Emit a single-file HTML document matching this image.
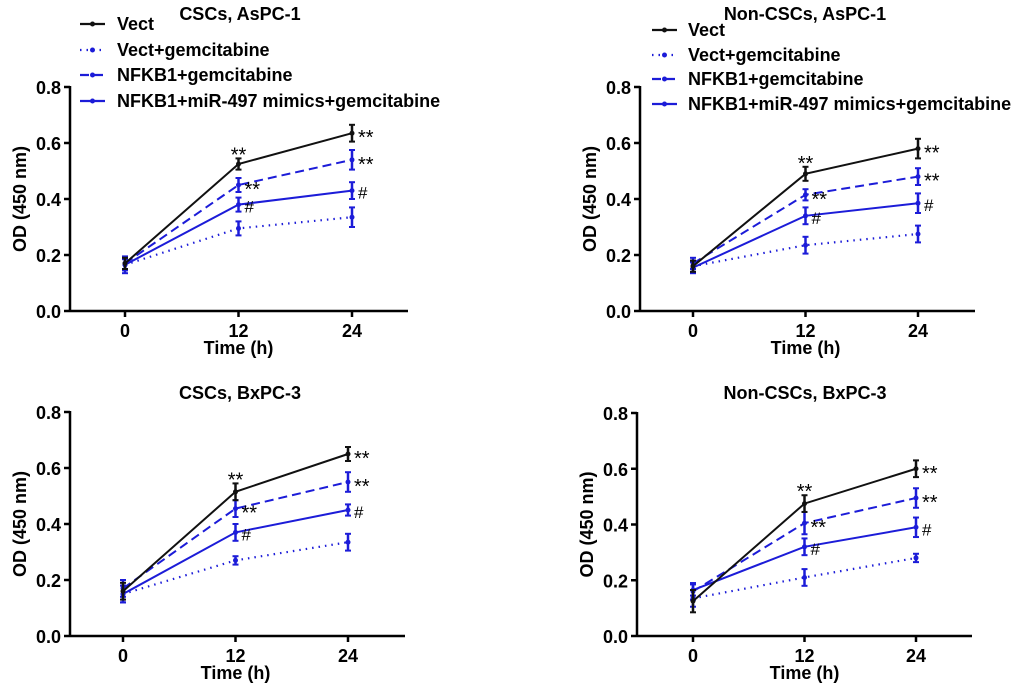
<!DOCTYPE html>
<html><head><meta charset="utf-8"><style>
html,body{margin:0;padding:0;background:#fff;}
svg{display:block;font-family:"Liberation Sans",Arial,sans-serif;font-weight:bold;}
</style></head><body>
<svg id="chart" width="1020" height="690" viewBox="0 0 1020 690" xmlns="http://www.w3.org/2000/svg"></svg>
<script>
const timepoints = [0, 12, 24];
const yTicks = [0.0, 0.2, 0.4, 0.6, 0.8];
const seriesNames = ["Vect", "Vect+gemcitabine", "NFKB1+gemcitabine", "NFKB1+miR-497 mimics+gemcitabine"];
const panelTitles = ["CSCs, AsPC-1", "Non-CSCs, AsPC-1", "CSCs, BxPC-3", "Non-CSCs, BxPC-3"];
const p1Values = [[0.17,0.525,0.635],[0.165,0.295,0.335],[0.17,0.45,0.54],[0.165,0.38,0.43]];
const p2Values = [[0.16,0.49,0.58],[0.16,0.235,0.275],[0.17,0.415,0.48],[0.155,0.34,0.385]];
const p3Values = [[0.16,0.515,0.65],[0.15,0.27,0.335],[0.17,0.455,0.55],[0.15,0.37,0.45]];
const p4Values = [[0.125,0.475,0.6],[0.135,0.21,0.28],[0.16,0.405,0.495],[0.165,0.32,0.39]];
const p1Err = [[0.02,0.02,0.03],[0.03,0.025,0.035],[0.02,0.025,0.035],[0.02,0.025,0.03]];
const p2Err = [[0.02,0.025,0.035],[0.02,0.03,0.03],[0.02,0.02,0.03],[0.02,0.03,0.035]];
const p3Err = [[0.03,0.03,0.025],[0.03,0.015,0.03],[0.03,0.03,0.035],[0.03,0.03,0.02]];
const p4Err = [[0.04,0.03,0.03],[0.03,0.03,0.015],[0.03,0.04,0.035],[0.02,0.03,0.035]];
const p1Marks = [["**","**"],["",""],["**","**"],["#","#"]];
const p2Marks = [["**","**"],["",""],["**","**"],["#","#"]];
const p3Marks = [["**","**"],["",""],["**","**"],["#","#"]];
const p4Marks = [["**","**"],["",""],["**","**"],["#","#"]];

const NS="http://www.w3.org/2000/svg";
const svg=document.getElementById('chart');
const BLUE="#1c1cd8";
const colors=["#111",BLUE,BLUE,BLUE];
const dashes=["","1.5 5","9 5",""];
function mk(tag,attrs,parent){const e=document.createElementNS(NS,tag);for(const k in attrs)e.setAttribute(k,attrs[k]);(parent||svg).appendChild(e);return e;}

const panels=[
 {ax:70,top:87,bot:311,x0:125,x24:352,xend:408,title:[240,20],vals:p1Values,err:p1Err,marks:p1Marks},
 {ax:640,top:87,bot:311,x0:693,x24:918,xend:975,title:[805,20],vals:p2Values,err:p2Err,marks:p2Marks},
 {ax:70,top:412,bot:636,x0:123,x24:348,xend:405,title:[240,399],vals:p3Values,err:p3Err,marks:p3Marks},
 {ax:637,top:413,bot:636,x0:693,x24:916,xend:972,title:[805,399],vals:p4Values,err:p4Err,marks:p4Marks}
];
panels.forEach((p,pi)=>{
 const g=mk('g',{});
 
 
 const ys=v=>p.bot-(v/0.8)*(p.bot-p.top);
 const xs=t=>p.x0+(t/24)*(p.x24-p.x0);
 const t=mk('text',{x:p.title[0],y:p.title[1],'text-anchor':'middle','font-size':18},g);t.textContent=panelTitles[pi];
 
 
 mk('line',{x1:p.ax,y1:p.top-1,x2:p.ax,y2:p.bot,stroke:'#000','stroke-width':2.5},g);
 mk('line',{x1:p.ax,y1:p.bot,x2:p.xend,y2:p.bot,stroke:'#000','stroke-width':2.5},g);
 yTicks.forEach(v=>{mk('line',{x1:p.ax-6,y1:ys(v),x2:p.ax,y2:ys(v),stroke:'#000','stroke-width':2.5},g);
  const l=mk('text',{x:p.ax-9,y:ys(v)+7,'text-anchor':'end','font-size':18},g);l.textContent=v.toFixed(1);
  
  });
 timepoints.forEach(tp=>{mk('line',{x1:xs(tp),y1:p.bot,x2:xs(tp),y2:p.bot+6,stroke:'#000','stroke-width':2.5},g);
  const l=mk('text',{x:xs(tp),y:p.bot+26,'text-anchor':'middle','font-size':18},g);l.textContent=tp;
  
  });
 const xt=mk('text',{x:xs(12),y:p.bot+43,'text-anchor':'middle','font-size':18},g);xt.textContent="Time (h)";
 
 
 const yc=(p.top+p.bot)/2;
 const yx=p.ax-44;
 const yt=mk('text',{x:yx,y:yc,'text-anchor':'middle','font-size':18,transform:`rotate(-90 ${yx} ${yc})`},g);yt.textContent="OD (450 nm)";
 
 
 [1,2,3,0].forEach(s=>{
  const pts=p.vals[s].map((v,i)=>xs(timepoints[i])+','+ys(v)).join(' ');
  const pl=mk('polyline',{points:pts,fill:'none',stroke:colors[s],'stroke-width':s==1?2.2:2,'stroke-dasharray':dashes[s]},g);
  
  
  p.vals[s].forEach((v,i)=>{const x=xs(timepoints[i]),e=p.err[s][i];
   mk('line',{x1:x,y1:ys(v+e),x2:x,y2:ys(v-e),stroke:colors[s],'stroke-width':2.5},g);
   mk('line',{x1:x-3,y1:ys(v+e),x2:x+3,y2:ys(v+e),stroke:colors[s],'stroke-width':2},g);
   mk('line',{x1:x-3,y1:ys(v-e),x2:x+3,y2:ys(v-e),stroke:colors[s],'stroke-width':2},g);
   const c=mk('circle',{cx:x,cy:ys(v),r:2.5,fill:colors[s]},g);
   
   });
  p.marks[s].forEach((m,j)=>{if(!m)return;const i=j+1;const x=xs(timepoints[i]),v=p.vals[s][i];
   let tx=x+6,ty=ys(v)+(m=='#'?8:11),anchor='start';
   if(s===0&&i===1){tx=x;ty=ys(v+p.err[s][i])+3;anchor='middle';}
   const a=mk('text',{x:tx,y:ty,'text-anchor':anchor,'font-size':m=='#'?17:20,'font-weight':'normal'},g);a.textContent=m;
   
   });
 });
});
const legends=[{x:80,ys:[24,50,75,101],tx:117},{x:652,ys:[30,55,79,104],tx:688}];
legends.forEach(L=>{
 const g=mk('g',{});
 
 
 seriesNames.forEach((n,s)=>{const y=L.ys[s];
  mk('line',{x1:L.x,y1:y,x2:L.x+25,y2:y,stroke:colors[s],'stroke-width':2.2,'stroke-dasharray':dashes[s]},g);
  mk('circle',{cx:L.x+12.5,cy:y,r:2.5,fill:colors[s]},g);
  const t=mk('text',{x:L.tx,y:y+6,'font-size':18},g);t.textContent=n;
  
  });
});
</script>
</body></html>
